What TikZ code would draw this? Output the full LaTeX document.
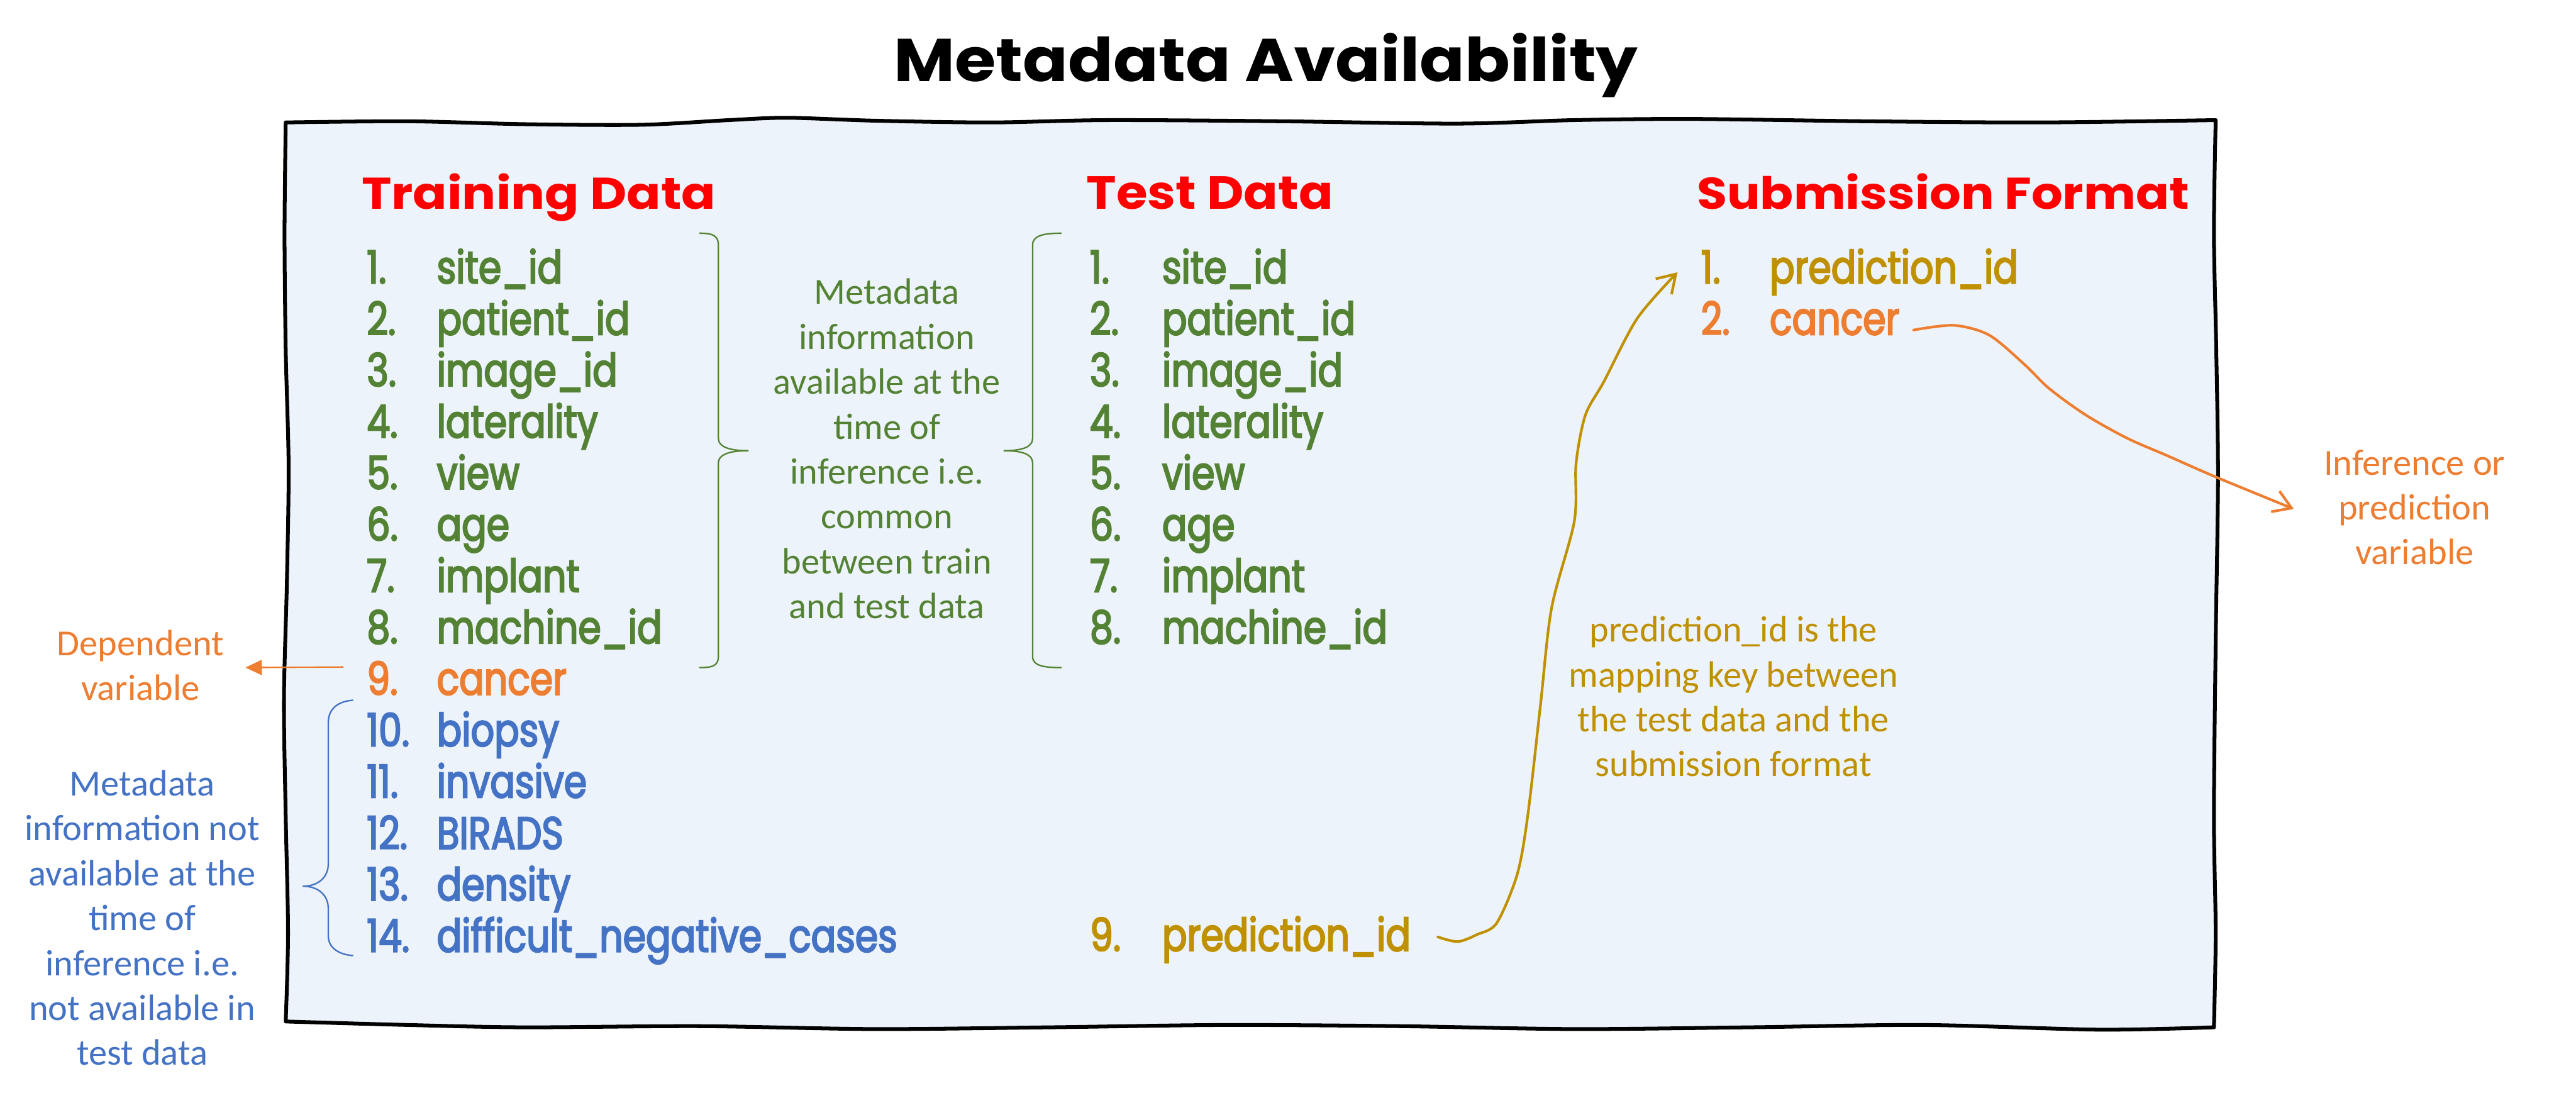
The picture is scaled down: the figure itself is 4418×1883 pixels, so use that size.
\documentclass[tikz,border=0pt]{standalone}
\usepackage{fontspec}
\usepackage{graphicx}
\usetikzlibrary{arrows.meta}
\newfontfamily\listfont{Poppins}[FakeStretch=0.81,FakeBold=3]
\newfontfamily\notefont{Carlito}
\newfontfamily\handfont{Poppins}
\definecolor{cgreen}{RGB}{84,130,53}
\definecolor{corange}{RGB}{237,125,49}
\definecolor{cblue}{RGB}{68,114,196}
\definecolor{cgold}{RGB}{191,144,0}
\definecolor{cred}{RGB}{255,0,0}
\definecolor{boxfill}{RGB}{237,243,250}
\begin{document}
\begin{tikzpicture}[x=1pt,y=-1pt,
  num/.style={anchor=base west, inner sep=0pt, font=\listfont\fontsize{78}{90}\selectfont},
  note/.style={anchor=north, inner sep=0pt, align=center, font=\notefont\fontsize{63}{77}\selectfont},
  head/.style={anchor=base west, inner sep=0pt, text=cred},
  bracestyle/.style={line width=2.5pt, line cap=round, line join=round},
  curvearrow/.style={line width=4.5pt, line cap=round, -{Straight Barb[length=30pt,width=38pt,line width=4.5pt]}}
]
\useasboundingbox (0,0) rectangle (4418,1883);
\fill[white] (0,0) rectangle (4418,1883);

% hand-drawn frame
\draw[line width=6.5pt, fill=boxfill, line join=round]
  plot[smooth, tension=0.5] coordinates {(490,210) (700,208) (900,213) (1100,214) (1250,206) (1350,202) (1500,207) (1700,210) (1900,206) (2200,208) (2500,212) (2700,206) (2900,204) (3200,208) (3500,210) (3800,206)}
  -- plot[smooth, tension=0.5] coordinates {(3800,206) (3797,400) (3801,600) (3804,820) (3800,1100) (3797,1400) (3800,1600) (3797,1762)}
  -- plot[smooth, tension=0.5] coordinates {(3797,1762) (3600,1766) (3300,1758) (3000,1762) (2700,1765) (2400,1760) (2100,1758) (1800,1762) (1500,1765) (1200,1760) (900,1762) (700,1758) (490,1752)}
  -- plot[smooth, tension=0.5] coordinates {(490,1752) (494,1600) (490,1400) (487,1200) (492,1000) (495,800) (490,600) (488,400) (490,210)}
  -- cycle;

% title and headers
\node[anchor=base west, inner sep=0pt] (title) at (1533,140) {\resizebox{1275pt}{83pt}{\handfont\bfseries Metadata Availability}};
\node[head] (htrain) at (620,359) {\resizebox{607pt}{61pt}{\handfont\bfseries Training Data}};
\node[head] (htest) at (1863,359) {\resizebox{423pt}{56pt}{\handfont\bfseries Test Data}};
\node[head] (hsub) at (2910,359) {\resizebox{844pt}{61pt}{\handfont\bfseries Submission Format}};

% training data list
\foreach \i/\t/\c in {1/site\_id/cgreen, 2/patient\_id/cgreen, 3/image\_id/cgreen, 4/laterality/cgreen, 5/view/cgreen, 6/age/cgreen, 7/implant/cgreen, 8/machine\_id/cgreen, 9/cancer/corange, 10/biopsy/cblue, 11/invasive/cblue, 12/BIRADS/cblue, 13/density/cblue, 14/difficult\_negative\_cases/cblue}{
  \pgfmathsetmacro\yy{486+88.2*(\i-1)}
  \node[num, text=\c] (tn\i) at (629,\yy) {\i.};
  \node[num, text=\c] (tt\i) at (749,\yy) {\t};
}

% test data list
\foreach \i/\t in {1/site\_id, 2/patient\_id, 3/image\_id, 4/laterality, 5/view, 6/age, 7/implant, 8/machine\_id}{
  \pgfmathsetmacro\yy{486+88.2*(\i-1)}
  \node[num, text=cgreen] (en\i) at (1869,\yy) {\i.};
  \node[num, text=cgreen] (et\i) at (1993,\yy) {\t};
}
\node[num, text=cgold] (en9) at (1869,1631) {9.};
\node[num, text=cgold] (et9) at (1993,1631) {prediction\_id};

% submission format list
\node[num, text=cgold] (pn1) at (2917,486) {1.};
\node[num, text=cgold] (pt1) at (3035,486) {prediction\_id};
\node[num, text=corange] (pn2) at (2917,574) {2.};
\node[num, text=corange] (pt2) at (3035,574) {cancer};

% notes
\node[note, text=cgreen] (midnote) at (1521,478) {Metadata\\information\\available at the\\time of\\inference i.e.\\common\\between train\\and test data};
\node[note, text=corange] (depnote) at (241,1080) {Dependent\\variable};
\node[note, text=cblue] (nanote) at (244,1321) {Metadata\\information not\\available at the\\time of\\inference i.e.\\not available in\\test data};
\node[note, text=corange] (infnote) at (4141,771) {Inference or\\prediction\\variable};
\node[note, text=cgold] (keynote) at (2973,1057) {prediction\_id is the\\mapping key between\\the test data and the\\submission format};

% braces
\draw[bracestyle, cgreen] (1200,400) .. controls (1222,400) and (1232,404) .. (1232,420) -- (1232,752) .. controls (1232,766) and (1250,773) .. (1283,773) .. controls (1250,773) and (1232,780) .. (1232,794) -- (1232,1126) .. controls (1232,1142) and (1222,1145) .. (1200,1145);
\draw[bracestyle, cgreen] (1820,400) .. controls (1790,400) and (1771,404) .. (1771,420) -- (1771,752) .. controls (1771,766) and (1755,773) .. (1722,773) .. controls (1755,773) and (1771,780) .. (1771,794) -- (1771,1126) .. controls (1771,1142) and (1790,1145) .. (1820,1145);
\draw[bracestyle, cblue] (605,1201) .. controls (580,1203) and (563,1215) .. (563,1240) -- (563,1482) .. controls (563,1505) and (545,1520) .. (520,1520) .. controls (545,1520) and (563,1535) .. (563,1558) -- (563,1605) .. controls (563,1625) and (580,1637) .. (605,1639);

% connectors
\coordinate (dS) at (589,1144);
\coordinate (dE) at (421,1145);
\draw[corange, line width=2.5pt, -{Triangle[length=28pt,width=26pt]}] (dS) -- (dE);

\coordinate (gS) at (2466,1607);
\coordinate (gE) at (2877,467);
\draw[cgold, curvearrow] plot[smooth, tension=0.5] coordinates {(gS) (2500,1615) (2533,1603) (2567,1583) (2602,1500) (2620,1400) (2642,1209) (2661,1043) (2700,894) (2703,795) (2719,712) (2751,654) (2808,546) (gE)};

\coordinate (oS) at (3282,566);
\coordinate (oE) at (3934,873);
\draw[corange, curvearrow] plot[smooth, tension=0.5] coordinates {(oS) (3351,558) (3412,575) (3473,626) (3514,666) (3576,711) (3647,751) (3718,782) (3800,818) (oE)};
\end{tikzpicture}
\end{document}
